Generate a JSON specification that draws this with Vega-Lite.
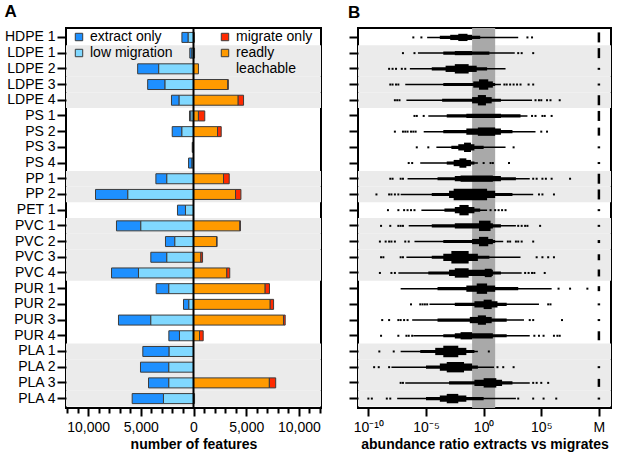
{
"$schema":"https://vega.github.io/schema/vega-lite/v6.json",
"padding":{"left":3,"top":2,"right":2,"bottom":2},
"datasets":{
"rows":[{"sample":"HDPE 1","polymer":"HDPE"},{"sample":"LDPE 1","polymer":"LDPE"},{"sample":"LDPE 2","polymer":"LDPE"},{"sample":"LDPE 3","polymer":"LDPE"},{"sample":"LDPE 4","polymer":"LDPE"},{"sample":"PS 1","polymer":"PS"},{"sample":"PS 2","polymer":"PS"},{"sample":"PS 3","polymer":"PS"},{"sample":"PS 4","polymer":"PS"},{"sample":"PP 1","polymer":"PP"},{"sample":"PP 2","polymer":"PP"},{"sample":"PET 1","polymer":"PET"},{"sample":"PVC 1","polymer":"PVC"},{"sample":"PVC 2","polymer":"PVC"},{"sample":"PVC 3","polymer":"PVC"},{"sample":"PVC 4","polymer":"PVC"},{"sample":"PUR 1","polymer":"PUR"},{"sample":"PUR 2","polymer":"PUR"},{"sample":"PUR 3","polymer":"PUR"},{"sample":"PUR 4","polymer":"PUR"},{"sample":"PLA 1","polymer":"PLA"},{"sample":"PLA 2","polymer":"PLA"},{"sample":"PLA 3","polymer":"PLA"},{"sample":"PLA 4","polymer":"PLA"}],
"features":[
{"sample":"HDPE 1","category":"extract only","features":600},{"sample":"HDPE 1","category":"low migration","features":500},{"sample":"HDPE 1","category":"readly leachable","features":80},
{"sample":"LDPE 1","category":"extract only","features":200},{"sample":"LDPE 1","category":"low migration","features":150},{"sample":"LDPE 1","category":"readly leachable","features":100},
{"sample":"LDPE 2","category":"extract only","features":2000},{"sample":"LDPE 2","category":"low migration","features":3300},{"sample":"LDPE 2","category":"readly leachable","features":470},
{"sample":"LDPE 3","category":"extract only","features":1650},{"sample":"LDPE 3","category":"low migration","features":2700},{"sample":"LDPE 3","category":"readly leachable","features":3260},{"sample":"LDPE 3","category":"migrate only","features":30},
{"sample":"LDPE 4","category":"extract only","features":730},{"sample":"LDPE 4","category":"low migration","features":1360},{"sample":"LDPE 4","category":"readly leachable","features":4240},{"sample":"LDPE 4","category":"migrate only","features":510},
{"sample":"PS 1","category":"extract only","features":130},{"sample":"PS 1","category":"low migration","features":250},{"sample":"PS 1","category":"readly leachable","features":470},{"sample":"PS 1","category":"migrate only","features":600},
{"sample":"PS 2","category":"extract only","features":920},{"sample":"PS 2","category":"low migration","features":1100},{"sample":"PS 2","category":"readly leachable","features":2280},{"sample":"PS 2","category":"migrate only","features":350},
{"sample":"PS 3","category":"extract only","features":60},{"sample":"PS 3","category":"low migration","features":60},
{"sample":"PS 4","category":"extract only","features":330},{"sample":"PS 4","category":"low migration","features":140},
{"sample":"PP 1","category":"extract only","features":1040},{"sample":"PP 1","category":"low migration","features":2530},{"sample":"PP 1","category":"readly leachable","features":2850},{"sample":"PP 1","category":"migrate only","features":540},
{"sample":"PP 2","category":"extract only","features":3070},{"sample":"PP 2","category":"low migration","features":6230},{"sample":"PP 2","category":"readly leachable","features":3990},{"sample":"PP 2","category":"migrate only","features":510},
{"sample":"PET 1","category":"extract only","features":760},{"sample":"PET 1","category":"low migration","features":760},
{"sample":"PVC 1","category":"extract only","features":2310},{"sample":"PVC 1","category":"low migration","features":5000},{"sample":"PVC 1","category":"readly leachable","features":4400},{"sample":"PVC 1","category":"migrate only","features":50},
{"sample":"PVC 2","category":"extract only","features":890},{"sample":"PVC 2","category":"low migration","features":1770},{"sample":"PVC 2","category":"readly leachable","features":2200},{"sample":"PVC 2","category":"migrate only","features":30},
{"sample":"PVC 3","category":"extract only","features":1520},{"sample":"PVC 3","category":"low migration","features":2530},{"sample":"PVC 3","category":"readly leachable","features":700},{"sample":"PVC 3","category":"migrate only","features":160},
{"sample":"PVC 4","category":"extract only","features":2560},{"sample":"PVC 4","category":"low migration","features":5220},{"sample":"PVC 4","category":"readly leachable","features":3160},{"sample":"PVC 4","category":"migrate only","features":280},
{"sample":"PUR 1","category":"extract only","features":1200},{"sample":"PUR 1","category":"low migration","features":2340},{"sample":"PUR 1","category":"readly leachable","features":6800},{"sample":"PUR 1","category":"migrate only","features":410},
{"sample":"PUR 2","category":"extract only","features":510},{"sample":"PUR 2","category":"low migration","features":440},{"sample":"PUR 2","category":"readly leachable","features":7280},{"sample":"PUR 2","category":"migrate only","features":320},
{"sample":"PUR 3","category":"extract only","features":3070},{"sample":"PUR 3","category":"low migration","features":4050},{"sample":"PUR 3","category":"readly leachable","features":8540},{"sample":"PUR 3","category":"migrate only","features":160},
{"sample":"PUR 4","category":"extract only","features":1010},{"sample":"PUR 4","category":"low migration","features":1330},{"sample":"PUR 4","category":"readly leachable","features":570},{"sample":"PUR 4","category":"migrate only","features":350},
{"sample":"PLA 1","category":"extract only","features":2500},{"sample":"PLA 1","category":"low migration","features":2310},
{"sample":"PLA 2","category":"extract only","features":2690},{"sample":"PLA 2","category":"low migration","features":2340},
{"sample":"PLA 3","category":"extract only","features":1930},{"sample":"PLA 3","category":"low migration","features":2340},{"sample":"PLA 3","category":"readly leachable","features":7200},{"sample":"PLA 3","category":"migrate only","features":600},
{"sample":"PLA 4","category":"extract only","features":2970},{"sample":"PLA 4","category":"low migration","features":2850},{"sample":"PLA 4","category":"readly leachable","features":100}
],
"swarm":[
{"sample":"HDPE 1","from":-4.9,"to":3.0,"density":0.12},{"sample":"HDPE 1","from":-3.8,"to":-0.3,"density":0.25},{"sample":"HDPE 1","from":-2.9,"to":-1.0,"density":0.42},{"sample":"HDPE 1","from":-2.2,"to":-1.4,"density":0.58},
{"sample":"LDPE 1","from":-5.7,"to":2.7,"density":0.12},{"sample":"LDPE 1","from":-3.5,"to":0.5,"density":0.25},{"sample":"LDPE 1","from":-2.5,"to":-1.0,"density":0.33},
{"sample":"LDPE 2","from":-6.4,"to":1.9,"density":0.12},{"sample":"LDPE 2","from":-4.5,"to":0.3,"density":0.25},{"sample":"LDPE 2","from":-3.3,"to":-0.6,"density":0.5},{"sample":"LDPE 2","from":-2.5,"to":-1.3,"density":0.75},
{"sample":"LDPE 3","from":-6.8,"to":1.5,"density":0.12},{"sample":"LDPE 3","from":-3.5,"to":1.0,"density":0.25},{"sample":"LDPE 3","from":-0.9,"to":0.8,"density":0.5},{"sample":"LDPE 3","from":-0.4,"to":0.4,"density":0.83},
{"sample":"LDPE 4","from":-6.7,"to":4.2,"density":0.12},{"sample":"LDPE 4","from":-3.6,"to":1.5,"density":0.25},{"sample":"LDPE 4","from":-1.0,"to":0.7,"density":0.5},{"sample":"LDPE 4","from":-0.5,"to":0.2,"density":0.83},
{"sample":"PS 1","from":-4.8,"to":3.8,"density":0.12},{"sample":"PS 1","from":-3.2,"to":3.2,"density":0.25},{"sample":"PS 1","from":-1.5,"to":1.5,"density":0.33},
{"sample":"PS 2","from":-5.2,"to":4.5,"density":0.12},{"sample":"PS 2","from":-3.5,"to":2.5,"density":0.25},{"sample":"PS 2","from":-1.5,"to":1.5,"density":0.5},{"sample":"PS 2","from":-0.5,"to":1.0,"density":0.67},
{"sample":"PS 3","from":-4.1,"to":1.9,"density":0.12},{"sample":"PS 3","from":-2.8,"to":0.0,"density":0.25},{"sample":"PS 3","from":-2.2,"to":-0.8,"density":0.5},{"sample":"PS 3","from":-1.7,"to":-1.1,"density":0.75},
{"sample":"PS 4","from":-5.5,"to":-0.5,"density":0.12},{"sample":"PS 4","from":-3.2,"to":-0.8,"density":0.25},{"sample":"PS 4","from":-2.6,"to":-1.1,"density":0.5},{"sample":"PS 4","from":-2.1,"to":-1.5,"density":0.75},
{"sample":"PP 1","from":-6.6,"to":4.0,"density":0.12},{"sample":"PP 1","from":-4.0,"to":2.8,"density":0.25},{"sample":"PP 1","from":-2.5,"to":1.5,"density":0.42},{"sample":"PP 1","from":-2.0,"to":0.8,"density":0.5},
{"sample":"PP 2","from":-7.2,"to":4.3,"density":0.12},{"sample":"PP 2","from":-4.5,"to":2.5,"density":0.25},{"sample":"PP 2","from":-3.0,"to":1.0,"density":0.58},{"sample":"PP 2","from":-2.6,"to":0.3,"density":0.92},
{"sample":"PET 1","from":-5.4,"to":0.3,"density":0.12},{"sample":"PET 1","from":-3.4,"to":-0.3,"density":0.25},{"sample":"PET 1","from":-2.5,"to":-0.8,"density":0.5},{"sample":"PET 1","from":-2.1,"to":-1.3,"density":0.83},
{"sample":"PVC 1","from":-6.5,"to":2.8,"density":0.12},{"sample":"PVC 1","from":-4.5,"to":1.5,"density":0.25},{"sample":"PVC 1","from":-2.5,"to":0.8,"density":0.42},{"sample":"PVC 1","from":-0.4,"to":0.6,"density":0.83},
{"sample":"PVC 2","from":-6.0,"to":1.7,"density":0.12},{"sample":"PVC 2","from":-3.5,"to":1.0,"density":0.25},{"sample":"PVC 2","from":-1.0,"to":0.8,"density":0.42},{"sample":"PVC 2","from":-0.4,"to":0.4,"density":0.75},
{"sample":"PVC 3","from":-6.7,"to":3.2,"density":0.12},{"sample":"PVC 3","from":-4.5,"to":0.5,"density":0.25},{"sample":"PVC 3","from":-3.5,"to":-0.5,"density":0.58},{"sample":"PVC 3","from":-2.8,"to":-1.3,"density":1.0},
{"sample":"PVC 4","from":-7.4,"to":3.3,"density":0.12},{"sample":"PVC 4","from":-4.8,"to":1.5,"density":0.25},{"sample":"PVC 4","from":-3.0,"to":0.8,"density":0.5},{"sample":"PVC 4","from":-2.5,"to":-1.3,"density":0.75},{"sample":"PVC 4","from":0.1,"to":0.7,"density":0.67},
{"sample":"PUR 1","from":-7.2,"to":5.9,"density":0.12},{"sample":"PUR 1","from":-4.0,"to":3.0,"density":0.25},{"sample":"PUR 1","from":-1.5,"to":1.0,"density":0.5},{"sample":"PUR 1","from":-0.6,"to":0.3,"density":0.83},
{"sample":"PUR 2","from":-4.7,"to":4.8,"density":0.12},{"sample":"PUR 2","from":-2.5,"to":2.0,"density":0.25},{"sample":"PUR 2","from":-0.8,"to":1.2,"density":0.5},{"sample":"PUR 2","from":0.0,"to":0.7,"density":0.75},
{"sample":"PUR 3","from":-6.2,"to":3.5,"density":0.12},{"sample":"PUR 3","from":-4.0,"to":2.0,"density":0.25},{"sample":"PUR 3","from":-1.2,"to":0.7,"density":0.5},{"sample":"PUR 3","from":-0.5,"to":0.2,"density":0.75},
{"sample":"PUR 4","from":-6.1,"to":4.0,"density":0.12},{"sample":"PUR 4","from":-3.5,"to":2.0,"density":0.25},{"sample":"PUR 4","from":-2.5,"to":0.8,"density":0.42},{"sample":"PUR 4","from":-2.0,"to":-1.0,"density":0.58},
{"sample":"PLA 1","from":-7.2,"to":-0.5,"density":0.12},{"sample":"PLA 1","from":-5.5,"to":-0.8,"density":0.25},{"sample":"PLA 1","from":-4.2,"to":-1.5,"density":0.58},{"sample":"PLA 1","from":-3.5,"to":-2.2,"density":0.92},
{"sample":"PLA 2","from":-8.0,"to":0.9,"density":0.12},{"sample":"PLA 2","from":-5.0,"to":-0.5,"density":0.25},{"sample":"PLA 2","from":-3.8,"to":-1.0,"density":0.58},{"sample":"PLA 2","from":-3.2,"to":-1.7,"density":0.83},
{"sample":"PLA 3","from":-6.8,"to":4.0,"density":0.12},{"sample":"PLA 3","from":-3.0,"to":2.5,"density":0.25},{"sample":"PLA 3","from":-0.8,"to":1.6,"density":0.5},{"sample":"PLA 3","from":0.0,"to":1.1,"density":0.75},
{"sample":"PLA 4","from":-7.5,"to":2.8,"density":0.12},{"sample":"PLA 4","from":-5.0,"to":0.0,"density":0.25},{"sample":"PLA 4","from":-3.8,"to":-1.5,"density":0.5},{"sample":"PLA 4","from":-3.2,"to":-2.2,"density":0.75}
],
"dots":[
{"sample":"HDPE 1","log_ratio":-6.1},{"sample":"HDPE 1","log_ratio":-5.4},{"sample":"HDPE 1","log_ratio":3.8},{"sample":"HDPE 1","log_ratio":4.2},
{"sample":"LDPE 1","log_ratio":-7.0},{"sample":"LDPE 1","log_ratio":-6.0},{"sample":"LDPE 1","log_ratio":3.0},{"sample":"LDPE 1","log_ratio":3.3},{"sample":"LDPE 1","log_ratio":4.3},
{"sample":"LDPE 2","log_ratio":-8.2},{"sample":"LDPE 2","log_ratio":-7.9},{"sample":"LDPE 2","log_ratio":-7.6},{"sample":"LDPE 2","log_ratio":-7.1},{"sample":"LDPE 2","log_ratio":-6.8},
{"sample":"LDPE 3","log_ratio":-8.1},{"sample":"LDPE 3","log_ratio":-7.9},{"sample":"LDPE 3","log_ratio":-7.6},{"sample":"LDPE 3","log_ratio":-7.4},{"sample":"LDPE 3","log_ratio":1.8},{"sample":"LDPE 3","log_ratio":2.0},{"sample":"LDPE 3","log_ratio":2.3},{"sample":"LDPE 3","log_ratio":2.6},{"sample":"LDPE 3","log_ratio":2.9},{"sample":"LDPE 3","log_ratio":3.2},{"sample":"LDPE 3","log_ratio":3.9},{"sample":"LDPE 3","log_ratio":4.3},
{"sample":"LDPE 4","log_ratio":-7.7},{"sample":"LDPE 4","log_ratio":-7.5},{"sample":"LDPE 4","log_ratio":-7.3},{"sample":"LDPE 4","log_ratio":4.5},{"sample":"LDPE 4","log_ratio":4.8},{"sample":"LDPE 4","log_ratio":5.0},{"sample":"LDPE 4","log_ratio":5.5},{"sample":"LDPE 4","log_ratio":5.8},{"sample":"LDPE 4","log_ratio":6.6},
{"sample":"PS 1","log_ratio":-6.0},{"sample":"PS 1","log_ratio":-5.8},{"sample":"PS 1","log_ratio":-5.2},{"sample":"PS 1","log_ratio":4.2},{"sample":"PS 1","log_ratio":4.5},{"sample":"PS 1","log_ratio":5.1},{"sample":"PS 1","log_ratio":5.3},{"sample":"PS 1","log_ratio":5.9},
{"sample":"PS 2","log_ratio":-7.7},{"sample":"PS 2","log_ratio":-7.0},{"sample":"PS 2","log_ratio":-6.8},{"sample":"PS 2","log_ratio":-6.6},{"sample":"PS 2","log_ratio":-6.3},{"sample":"PS 2","log_ratio":-6.1},{"sample":"PS 2","log_ratio":-5.9},{"sample":"PS 2","log_ratio":5.0},{"sample":"PS 2","log_ratio":5.5},
{"sample":"PS 3","log_ratio":-5.8},{"sample":"PS 3","log_ratio":-4.8},{"sample":"PS 3","log_ratio":2.6},
{"sample":"PS 4","log_ratio":-6.5},{"sample":"PS 4","log_ratio":-6.2},{"sample":"PS 4","log_ratio":0.0},{"sample":"PS 4","log_ratio":0.6},{"sample":"PS 4","log_ratio":0.8},{"sample":"PS 4","log_ratio":2.2},
{"sample":"PP 1","log_ratio":-8.1},{"sample":"PP 1","log_ratio":-7.9},{"sample":"PP 1","log_ratio":-7.2},{"sample":"PP 1","log_ratio":-7.0},{"sample":"PP 1","log_ratio":4.3},{"sample":"PP 1","log_ratio":4.6},{"sample":"PP 1","log_ratio":5.1},{"sample":"PP 1","log_ratio":5.4},{"sample":"PP 1","log_ratio":5.9},{"sample":"PP 1","log_ratio":7.5},
{"sample":"PP 2","log_ratio":-9.3},{"sample":"PP 2","log_ratio":-8.2},{"sample":"PP 2","log_ratio":-8.0},{"sample":"PP 2","log_ratio":-7.7},{"sample":"PP 2","log_ratio":-7.4},{"sample":"PP 2","log_ratio":4.8},{"sample":"PP 2","log_ratio":5.1},{"sample":"PP 2","log_ratio":6.1},
{"sample":"PET 1","log_ratio":-8.3},{"sample":"PET 1","log_ratio":-7.4},{"sample":"PET 1","log_ratio":-6.9},{"sample":"PET 1","log_ratio":-6.6},{"sample":"PET 1","log_ratio":-6.3},{"sample":"PET 1","log_ratio":-6.0},{"sample":"PET 1","log_ratio":0.6},{"sample":"PET 1","log_ratio":1.0},{"sample":"PET 1","log_ratio":1.3},{"sample":"PET 1","log_ratio":1.6},{"sample":"PET 1","log_ratio":1.9},
{"sample":"PVC 1","log_ratio":-8.9},{"sample":"PVC 1","log_ratio":-8.1},{"sample":"PVC 1","log_ratio":-7.4},{"sample":"PVC 1","log_ratio":-7.2},{"sample":"PVC 1","log_ratio":-7.0},{"sample":"PVC 1","log_ratio":3.0},{"sample":"PVC 1","log_ratio":3.3},{"sample":"PVC 1","log_ratio":3.6},{"sample":"PVC 1","log_ratio":3.8},{"sample":"PVC 1","log_ratio":4.9},
{"sample":"PVC 2","log_ratio":-9.0},{"sample":"PVC 2","log_ratio":-8.5},{"sample":"PVC 2","log_ratio":-8.2},{"sample":"PVC 2","log_ratio":-8.0},{"sample":"PVC 2","log_ratio":-7.7},{"sample":"PVC 2","log_ratio":-6.8},{"sample":"PVC 2","log_ratio":-6.5},{"sample":"PVC 2","log_ratio":2.1},{"sample":"PVC 2","log_ratio":2.3},{"sample":"PVC 2","log_ratio":2.8},{"sample":"PVC 2","log_ratio":3.0},{"sample":"PVC 2","log_ratio":3.3},{"sample":"PVC 2","log_ratio":4.3},
{"sample":"PVC 3","log_ratio":-8.9},{"sample":"PVC 3","log_ratio":-8.7},{"sample":"PVC 3","log_ratio":-7.2},{"sample":"PVC 3","log_ratio":-7.0},{"sample":"PVC 3","log_ratio":4.6},{"sample":"PVC 3","log_ratio":5.1},{"sample":"PVC 3","log_ratio":5.6},{"sample":"PVC 3","log_ratio":6.1},
{"sample":"PVC 4","log_ratio":-9.0},{"sample":"PVC 4","log_ratio":-8.0},{"sample":"PVC 4","log_ratio":-7.7},{"sample":"PVC 4","log_ratio":3.6},{"sample":"PVC 4","log_ratio":3.9},{"sample":"PVC 4","log_ratio":4.2},{"sample":"PVC 4","log_ratio":4.4},{"sample":"PVC 4","log_ratio":5.3},
{"sample":"PUR 1","log_ratio":6.5},{"sample":"PUR 1","log_ratio":7.5},{"sample":"PUR 1","log_ratio":9.0},
{"sample":"PUR 2","log_ratio":-6.3},{"sample":"PUR 2","log_ratio":-5.5},{"sample":"PUR 2","log_ratio":-5.3},{"sample":"PUR 2","log_ratio":-5.1},{"sample":"PUR 2","log_ratio":-4.9},{"sample":"PUR 2","log_ratio":5.6},{"sample":"PUR 2","log_ratio":5.8},
{"sample":"PUR 3","log_ratio":-8.8},{"sample":"PUR 3","log_ratio":-8.2},{"sample":"PUR 3","log_ratio":-7.4},{"sample":"PUR 3","log_ratio":-7.2},{"sample":"PUR 3","log_ratio":-6.9},{"sample":"PUR 3","log_ratio":-6.6},{"sample":"PUR 3","log_ratio":4.0},{"sample":"PUR 3","log_ratio":4.3},{"sample":"PUR 3","log_ratio":6.8},
{"sample":"PUR 4","log_ratio":-8.9},{"sample":"PUR 4","log_ratio":-7.4},{"sample":"PUR 4","log_ratio":-6.7},{"sample":"PUR 4","log_ratio":-6.5},{"sample":"PUR 4","log_ratio":-6.2},{"sample":"PUR 4","log_ratio":4.4},{"sample":"PUR 4","log_ratio":4.8},{"sample":"PUR 4","log_ratio":5.2},{"sample":"PUR 4","log_ratio":6.1},{"sample":"PUR 4","log_ratio":6.4},{"sample":"PUR 4","log_ratio":6.6},
{"sample":"PLA 1","log_ratio":-9.05},{"sample":"PLA 1","log_ratio":-7.8},{"sample":"PLA 1","log_ratio":0.45},
{"sample":"PLA 2","log_ratio":-9.5},{"sample":"PLA 2","log_ratio":-9.1},{"sample":"PLA 2","log_ratio":-8.2},{"sample":"PLA 2","log_ratio":1.2},{"sample":"PLA 2","log_ratio":1.7},{"sample":"PLA 2","log_ratio":2.6},
{"sample":"PLA 3","log_ratio":-7.2},{"sample":"PLA 3","log_ratio":-7.0},{"sample":"PLA 3","log_ratio":4.3},{"sample":"PLA 3","log_ratio":4.6},{"sample":"PLA 3","log_ratio":5.0},{"sample":"PLA 3","log_ratio":5.6},
{"sample":"PLA 4","log_ratio":-10.0},{"sample":"PLA 4","log_ratio":-9.7},{"sample":"PLA 4","log_ratio":-8.4},{"sample":"PLA 4","log_ratio":-8.1},{"sample":"PLA 4","log_ratio":3.0},{"sample":"PLA 4","log_ratio":4.3},{"sample":"PLA 4","log_ratio":5.2},{"sample":"PLA 4","log_ratio":6.3}
],
"migrate_only":[
{"sample":"HDPE 1","n_features":500},{"sample":"LDPE 1","n_features":500},{"sample":"LDPE 2","n_features":100},{"sample":"LDPE 3","n_features":100},{"sample":"LDPE 4","n_features":500},{"sample":"PS 1","n_features":500},{"sample":"PS 2","n_features":400},{"sample":"PS 3","n_features":100},{"sample":"PS 4","n_features":100},{"sample":"PP 1","n_features":500},{"sample":"PP 2","n_features":500},{"sample":"PET 1","n_features":100},{"sample":"PVC 1","n_features":100},{"sample":"PVC 2","n_features":150},{"sample":"PVC 3","n_features":300},{"sample":"PVC 4","n_features":350},{"sample":"PUR 1","n_features":250},{"sample":"PUR 2","n_features":100},{"sample":"PUR 3","n_features":100},{"sample":"PUR 4","n_features":450},{"sample":"PLA 2","n_features":100},{"sample":"PLA 3","n_features":400},{"sample":"PLA 4","n_features":100}
]
},
"hconcat":[
{
"width":255,"height":380,
"title":{"text":"A","anchor":"start","fontSize":17,"fontWeight":"bold","offset":6,"color":"black"},
"layer":[
{"data":{"name":"rows"},"transform":[{"filter":{"field":"polymer","oneOf":["LDPE","PP","PVC","PLA"]}}],"mark":{"type":"rect","color":"#EBEBEB"},
"encoding":{"y":{"field":"sample","type":"nominal","scale":{"domain":["HDPE 1","LDPE 1","LDPE 2","LDPE 3","LDPE 4","PS 1","PS 2","PS 3","PS 4","PP 1","PP 2","PET 1","PVC 1","PVC 2","PVC 3","PVC 4","PUR 1","PUR 2","PUR 3","PUR 4","PLA 1","PLA 2","PLA 3","PLA 4"],"paddingInner":0,"paddingOuter":0.1},"axis":{"title":null,"labelFontSize":14,"tickSize":9,"tickWidth":2,"labelPadding":2}}}},
{"data":{"name":"features"},"transform":[{"calculate":"(datum.category == 'extract only' || datum.category == 'low migration') ? -datum.features : datum.features","as":"signed"}],
"mark":{"type":"bar","size":10,"stroke":"#3c3c3c","strokeWidth":1},
"encoding":{
"y":{"field":"sample","type":"nominal","scale":{"domain":["HDPE 1","LDPE 1","LDPE 2","LDPE 3","LDPE 4","PS 1","PS 2","PS 3","PS 4","PP 1","PP 2","PET 1","PVC 1","PVC 2","PVC 3","PVC 4","PUR 1","PUR 2","PUR 3","PUR 4","PLA 1","PLA 2","PLA 3","PLA 4"],"paddingInner":0,"paddingOuter":0.1},"axis":{"title":null,"labelFontSize":14,"tickSize":9,"tickWidth":2,"labelPadding":2}},
"x":{"field":"signed","type":"quantitative","stack":"zero","scale":{"domain":[-12100,12100],"nice":false,"zero":false},
"axis":{"title":"number of features","values":[-12000,-11000,-10000,-9000,-8000,-7000,-6000,-5000,-4000,-3000,-2000,-1000,0,1000,2000,3000,4000,5000,6000,7000,8000,9000,10000,11000,12000],
"labelExpr":"datum.value % 5000 === 0 ? format(abs(datum.value), ',') : ''","tickSize":{"condition":{"test":"datum.value % 5000 === 0","value":8},"value":5},"tickWidth":2,"labelPadding":4,"titlePadding":3,"labelFlush":false,"labelOverlap":false}},
"color":{"field":"category","type":"nominal","scale":{"domain":["extract only","low migration","migrate only","readly leachable"],"range":["#1E90FF","#80D8FF","#FF2A00","#FF9A00"]},
"legend":{"title":null,"orient":"none","legendX":6,"legendY":2,"columns":2,"columnPadding":45,"rowPadding":2,"padding":0,"symbolType":"square","symbolSize":55,"symbolStrokeColor":"#3c3c3c","symbolStrokeWidth":1,"labelFontSize":14,"labelColor":"black","labelExpr":"datum.label == 'readly leachable' ? ['readly', 'leachable'] : datum.label"}},
"order":{"field":"category","sort":"descending"}
}},
{"data":{"values":[{"features":0}]},"mark":{"type":"rule","color":"black","strokeWidth":2},
"encoding":{"x":{"field":"features","type":"quantitative","scale":{"domain":[-12100,12100],"nice":false,"zero":false},
"axis":{"title":"number of features","values":[-12000,-11000,-10000,-9000,-8000,-7000,-6000,-5000,-4000,-3000,-2000,-1000,0,1000,2000,3000,4000,5000,6000,7000,8000,9000,10000,11000,12000],
"labelExpr":"datum.value % 5000 === 0 ? format(abs(datum.value), ',') : ''","tickSize":{"condition":{"test":"datum.value % 5000 === 0","value":8},"value":5},"tickWidth":2,"labelPadding":4,"titlePadding":3,"labelFlush":false,"labelOverlap":false}}}}
]
},
{
"width":253,"height":380,
"title":{"text":"B","anchor":"start","fontSize":17,"fontWeight":"bold","offset":6,"color":"black"},
"resolve":{"scale":{"size":"independent"}},
"layer":[
{"data":{"name":"rows"},"transform":[{"filter":{"field":"polymer","oneOf":["LDPE","PP","PVC","PLA"]}}],"mark":{"type":"rect","color":"#EBEBEB"},
"encoding":{"y":{"field":"sample","type":"nominal","scale":{"domain":["HDPE 1","LDPE 1","LDPE 2","LDPE 3","LDPE 4","PS 1","PS 2","PS 3","PS 4","PP 1","PP 2","PET 1","PVC 1","PVC 2","PVC 3","PVC 4","PUR 1","PUR 2","PUR 3","PUR 4","PLA 1","PLA 2","PLA 3","PLA 4"],"paddingInner":0,"paddingOuter":0.1},"axis":{"title":null,"labels":false,"tickSize":9,"tickWidth":2}}}},
{"data":{"values":[{"lower":-1,"upper":1}]},"mark":{"type":"rect","color":"#A9A9A9"},
"encoding":{"x":{"field":"lower","type":"quantitative","scale":{"domain":[-10.9,11.05],"nice":false,"zero":false},
"axis":{"title":"abundance ratio extracts vs migrates","values":[-10,-5,0,5,10],"labelExpr":"datum.value == 10 ? 'M' : datum.value == -10 ? '10⁻¹⁰' : datum.value == -5 ? '10⁻⁵' : datum.value == 0 ? '10⁰' : '10⁵'","tickSize":8,"tickWidth":2,"labelPadding":4,"titlePadding":3,"labelFlush":false}},
"x2":{"field":"upper"}}},
{"data":{"name":"swarm"},"mark":{"type":"bar","color":"black"},
"encoding":{
"y":{"field":"sample","type":"nominal","scale":{"domain":["HDPE 1","LDPE 1","LDPE 2","LDPE 3","LDPE 4","PS 1","PS 2","PS 3","PS 4","PP 1","PP 2","PET 1","PVC 1","PVC 2","PVC 3","PVC 4","PUR 1","PUR 2","PUR 3","PUR 4","PLA 1","PLA 2","PLA 3","PLA 4"],"paddingInner":0,"paddingOuter":0.1},"axis":{"title":null,"labels":false,"tickSize":9,"tickWidth":2}},
"x":{"field":"from","type":"quantitative","scale":{"domain":[-10.9,11.05],"nice":false,"zero":false},
"axis":{"title":"abundance ratio extracts vs migrates","values":[-10,-5,0,5,10],"labelExpr":"datum.value == 10 ? 'M' : datum.value == -10 ? '10⁻¹⁰' : datum.value == -5 ? '10⁻⁵' : datum.value == 0 ? '10⁰' : '10⁵'","tickSize":8,"tickWidth":2,"labelPadding":4,"titlePadding":3,"labelFlush":false}},
"x2":{"field":"to"},
"size":{"field":"density","type":"quantitative","scale":{"domain":[0,1],"range":[0,12.5]},"legend":null}}},
{"data":{"name":"dots"},"mark":{"type":"point","shape":"square","filled":true,"size":4,"color":"black","opacity":1},
"encoding":{
"y":{"field":"sample","type":"nominal","scale":{"domain":["HDPE 1","LDPE 1","LDPE 2","LDPE 3","LDPE 4","PS 1","PS 2","PS 3","PS 4","PP 1","PP 2","PET 1","PVC 1","PVC 2","PVC 3","PVC 4","PUR 1","PUR 2","PUR 3","PUR 4","PLA 1","PLA 2","PLA 3","PLA 4"],"paddingInner":0,"paddingOuter":0.1},"axis":{"title":null,"labels":false,"tickSize":9,"tickWidth":2}},
"x":{"field":"log_ratio","type":"quantitative","scale":{"domain":[-10.9,11.05],"nice":false,"zero":false},
"axis":{"title":"abundance ratio extracts vs migrates","values":[-10,-5,0,5,10],"labelExpr":"datum.value == 10 ? 'M' : datum.value == -10 ? '10⁻¹⁰' : datum.value == -5 ? '10⁻⁵' : datum.value == 0 ? '10⁰' : '10⁵'","tickSize":8,"tickWidth":2,"labelPadding":4,"titlePadding":3,"labelFlush":false}}}},
{"data":{"name":"migrate_only"},"mark":{"type":"tick","thickness":2.5,"color":"black","opacity":1},
"encoding":{
"y":{"field":"sample","type":"nominal","scale":{"domain":["HDPE 1","LDPE 1","LDPE 2","LDPE 3","LDPE 4","PS 1","PS 2","PS 3","PS 4","PP 1","PP 2","PET 1","PVC 1","PVC 2","PVC 3","PVC 4","PUR 1","PUR 2","PUR 3","PUR 4","PLA 1","PLA 2","PLA 3","PLA 4"],"paddingInner":0,"paddingOuter":0.1},"axis":{"title":null,"labels":false,"tickSize":9,"tickWidth":2}},
"x":{"datum":10,"type":"quantitative","scale":{"domain":[-10.9,11.05],"nice":false,"zero":false},
"axis":{"title":"abundance ratio extracts vs migrates","values":[-10,-5,0,5,10],"labelExpr":"datum.value == 10 ? 'M' : datum.value == -10 ? '10⁻¹⁰' : datum.value == -5 ? '10⁻⁵' : datum.value == 0 ? '10⁰' : '10⁵'","tickSize":8,"tickWidth":2,"labelPadding":4,"titlePadding":3,"labelFlush":false}},
"size":{"field":"n_features","type":"quantitative","scale":{"domain":[0,500],"range":[0,10]},"legend":null}}}
]
}
],
"spacing":37,
"bounds":"flush",
"resolve":{"scale":{"color":"independent"}},
"config":{
"font":"Liberation Sans",
"view":{"stroke":"black","strokeWidth":2},
"axis":{"domain":false,"grid":false,"tickColor":"black","labelColor":"black","titleColor":"black","labelFontSize":14,"titleFontSize":14,"titleFontWeight":"bold","tickWidth":2},
"title":{"color":"black"}
}
}
